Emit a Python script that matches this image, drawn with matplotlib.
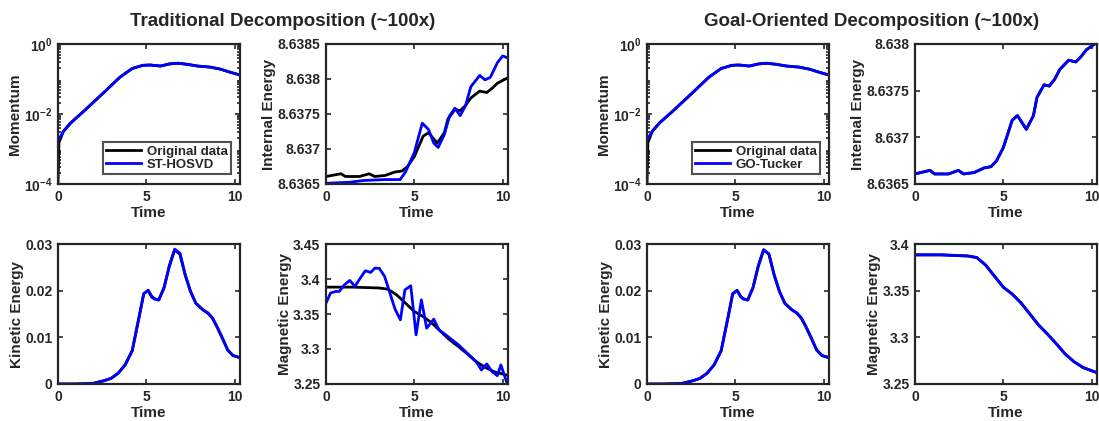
import matplotlib
matplotlib.use('Agg')
import matplotlib.pyplot as plt
import numpy as np
from matplotlib.ticker import FixedLocator, FuncFormatter, LogLocator, NullFormatter

plt.rcParams['font.family'] = ['Liberation Sans', 'DejaVu Sans']
plt.rcParams['font.weight'] = 'bold'
plt.rcParams['mathtext.fontset'] = 'custom'
plt.rcParams['mathtext.rm'] = 'Liberation Sans:bold'
plt.rcParams['mathtext.bf'] = 'Liberation Sans:bold'
plt.rcParams['mathtext.default'] = 'bf'

DARK = '#262626'

# ---- Momentum (log10 of value) ----
t_mom = [0.0, 0.05, 0.3, 0.7, 1.5, 2.5, 3.5, 4.2, 4.8, 5.2, 5.8, 6.3, 6.8, 7.3, 7.9, 8.6, 9.2, 9.7, 10.25]
mom_orig_log = [-4.0, -2.82, -2.5, -2.26, -1.9, -1.43, -0.95, -0.7, -0.61, -0.6, -0.63, -0.57, -0.55, -0.58, -0.63, -0.66, -0.72, -0.8, -0.88]
mom_st_log = [-2.74, -2.72, -2.5, -2.27, -1.9, -1.43, -0.95, -0.7, -0.61, -0.6, -0.63, -0.57, -0.55, -0.58, -0.63, -0.66, -0.72, -0.8, -0.88]
mom_go_log = [-2.74, -2.70, -2.49, -2.26, -1.9, -1.43, -0.95, -0.7, -0.61, -0.6, -0.63, -0.57, -0.55, -0.58, -0.63, -0.66, -0.72, -0.8, -0.88]

# ---- Internal energy (offset from 8.6365, units of 1e-4) ----
t_ie_orig = [0.0, 0.85, 1.1, 1.9, 2.45, 2.75, 3.35, 3.9, 4.3, 4.6, 5.0, 5.5, 5.8, 6.3, 6.7, 6.9, 7.3, 7.6, 7.9, 8.2, 8.7, 9.1, 9.4, 9.7, 10.25]
ie_orig = [1.07, 1.46, 1.07, 1.07, 1.46, 1.07, 1.22, 1.71, 1.85, 2.44, 3.9, 6.83, 7.32, 5.85, 7.32, 9.27, 10.63, 10.49, 11.22, 12.29, 13.27, 13.07, 13.66, 14.39, 15.12]
t_ie_st = [0.0, 1.3, 2.1, 3.3, 4.2, 4.5, 5.0, 5.45, 5.8, 6.1, 6.35, 6.7, 7.0, 7.3, 7.6, 7.9, 8.2, 8.7, 9.0, 9.3, 9.7, 10.0, 10.25]
ie_st = [0.10, 0.24, 0.49, 0.63, 0.63, 1.71, 4.49, 8.68, 7.8, 5.85, 5.22, 7.07, 9.76, 10.83, 9.76, 11.22, 13.9, 15.51, 14.88, 15.22, 17.32, 18.29, 18.05]
ie_go = [1.09, 1.46, 1.08, 1.08, 1.45, 1.08, 1.23, 1.72, 1.86, 2.45, 3.92, 6.84, 7.33, 5.86, 7.31, 9.26, 10.62, 10.5, 11.21, 12.28, 13.26, 13.08, 13.65, 14.38, 15.1]

# ---- Kinetic energy ----
t_ke = [0.0, 1.0, 2.0, 2.6, 3.0, 3.4, 3.8, 4.2, 4.6, 4.85, 5.1, 5.3, 5.45, 5.7, 6.0, 6.3, 6.6, 6.9, 7.2, 7.5, 7.8, 8.2, 8.5, 8.75, 9.0, 9.3, 9.6, 9.9, 10.25]
ke_orig = [0.0, 0.0, 0.00014, 0.0007, 0.0012, 0.0023, 0.0041, 0.0071, 0.0145, 0.0193, 0.0201, 0.0188, 0.0183, 0.018, 0.0206, 0.0252, 0.0287, 0.0278, 0.0233, 0.0198, 0.0173, 0.0159, 0.0151, 0.014, 0.0122, 0.0098, 0.0073, 0.0061, 0.0057]
ke_st = [0.0, 0.0, 0.00014, 0.0007, 0.0012, 0.0023, 0.0041, 0.0072, 0.0147, 0.0194, 0.0200, 0.0186, 0.0182, 0.0180, 0.0207, 0.0254, 0.0289, 0.0280, 0.0234, 0.0198, 0.0173, 0.0159, 0.0152, 0.0141, 0.0123, 0.0099, 0.0073, 0.0061, 0.0057]
ke_go = [0.0, 0.0, 0.00014, 0.0007, 0.0012, 0.0023, 0.0041, 0.0072, 0.0146, 0.0194, 0.0200, 0.0187, 0.0182, 0.0180, 0.0207, 0.0254, 0.0288, 0.0279, 0.0234, 0.0198, 0.0173, 0.0159, 0.0152, 0.0141, 0.0123, 0.0099, 0.0073, 0.0061, 0.0057]

# ---- Magnetic energy ----
t_me_orig = [0.0, 1.5, 3.0, 3.5, 4.0, 4.5, 5.0, 5.5, 6.0, 6.5, 7.0, 7.5, 8.0, 8.5, 9.0, 9.5, 10.25]
me_orig = [3.3884, 3.3884, 3.3872, 3.3855, 3.3774, 3.3655, 3.3536, 3.3464, 3.3369, 3.3249, 3.313, 3.3035, 3.293, 3.282, 3.2739, 3.2677, 3.2625]
t_me_st = [0.0, 0.26, 0.55, 0.75, 1.05, 1.35, 1.64, 1.94, 2.23, 2.53, 2.77, 3.02, 3.32, 3.62, 3.91, 4.21, 4.47, 4.8, 5.1, 5.4, 5.7, 6.1, 6.4, 6.9, 7.5, 8.1, 8.5, 8.8, 9.1, 9.4, 9.7, 9.9, 10.25]
me_st = [3.3655, 3.380, 3.3822, 3.3822, 3.3918, 3.398, 3.3894, 3.4013, 3.4118, 3.4094, 3.4156, 3.4152, 3.4037, 3.3798, 3.3569, 3.3417, 3.3846, 3.3903, 3.3202, 3.3703, 3.3297, 3.3426, 3.3273, 3.3178, 3.3059, 3.2915, 3.282, 3.270, 3.2786, 3.2677, 3.2619, 3.2772, 3.251]
me_go = [3.3883, 3.3883, 3.3871, 3.3854, 3.3773, 3.3654, 3.3537, 3.3463, 3.3368, 3.3250, 3.3131, 3.3034, 3.2931, 3.2821, 3.2738, 3.2678, 3.2624]

IE_BASE = 8.6365


def style_axes(ax, xlabel, ylabel):
    for s in ax.spines.values():
        s.set_linewidth(1.6)
        s.set_color(DARK)
    ax.tick_params(which='both', direction='in', top=True, right=True,
                   colors=DARK, labelsize=10, width=1.2, pad=4)
    ax.tick_params(which='major', length=3.5)
    ax.tick_params(which='minor', length=2)
    ax.set_xlim(0, 10.3)
    ax.set_xticks([0, 5, 10])
    ax.set_xlabel(xlabel, fontsize=11, fontweight='bold', color=DARK, labelpad=2)
    ax.set_ylabel(ylabel, fontsize=11, fontweight='bold', color=DARK, labelpad=1)


fmt_g = FuncFormatter(lambda v, p: f'{round(v, 6):g}')

fig = plt.figure(figsize=(10.99, 4.21), dpi=100)

groups = [
    dict(x0=0.0528, x1=0.2966, name='ST-HOSVD', title='Traditional Decomposition (~100x)',
         mom=mom_st_log, t_ie=t_ie_st, ie=ie_st, ie_top=8.6385, ke=ke_st,
         t_me=t_me_st, me=me_st, me_top=3.45),
    dict(x0=0.5887, x1=0.8326, name='GO-Tucker', title='Goal-Oriented Decomposition (~100x)',
         mom=mom_go_log, t_ie=t_ie_orig, ie=ie_go, ie_top=8.638, ke=ke_go,
         t_me=t_me_orig, me=me_go, me_top=3.4),
]

W = 0.1656
H = 0.3325
ytop = 0.563
ybot = 0.0879
lw = 2.0

for g in groups:
    # Momentum
    ax = fig.add_axes([g['x0'], ytop, W, H])
    ax.plot(t_mom, 10 ** np.array(mom_orig_log), color='k', lw=lw, label='Original data')
    ax.plot(t_mom, 10 ** np.array(g['mom']), color='#0000FF', lw=lw, label=g['name'])
    ax.set_yscale('log')
    ax.set_ylim(1e-4, 1)
    ax.yaxis.set_major_locator(FixedLocator([1e-4, 1e-2, 1]))
    ax.yaxis.set_major_formatter(FuncFormatter(lambda v, p: r'$10^{%d}$' % round(np.log10(v))))
    ax.yaxis.set_minor_locator(LogLocator(base=10, subs=np.arange(2, 10)))
    ax.yaxis.set_minor_formatter(NullFormatter())
    style_axes(ax, 'Time', 'Momentum')
    leg = ax.legend(loc='lower right', bbox_to_anchor=(0.95, 0.07), fontsize=9.5,
                    frameon=True, fancybox=False, edgecolor=DARK, handlelength=2.7,
                    borderpad=0.25, labelspacing=0.05, handletextpad=0.4, borderaxespad=0)
    leg.get_frame().set_linewidth(1.5)
    for txt in leg.get_texts():
        txt.set_fontweight('bold')
        txt.set_color(DARK)

    # Internal energy
    ax = fig.add_axes([g['x1'], ytop, W, H])
    ax.plot(t_ie_orig, IE_BASE + np.array(ie_orig) * 1e-4, color='k', lw=lw)
    ax.plot(g['t_ie'], IE_BASE + np.array(g['ie']) * 1e-4, color='#0000FF', lw=lw)
    ax.set_ylim(IE_BASE, g['ie_top'])
    ax.set_yticks(np.arange(IE_BASE, g['ie_top'] + 1e-5, 0.0005))
    ax.yaxis.set_major_formatter(fmt_g)
    style_axes(ax, 'Time', 'Internal Energy')

    # Kinetic energy
    ax = fig.add_axes([g['x0'], ybot, W, H])
    ax.plot(t_ke, ke_orig, color='k', lw=lw)
    ax.plot(t_ke, g['ke'], color='#0000FF', lw=lw)
    ax.set_ylim(0, 0.03)
    ax.set_yticks([0, 0.01, 0.02, 0.03])
    ax.yaxis.set_major_formatter(fmt_g)
    style_axes(ax, 'Time', 'Kinetic Energy')

    # Magnetic energy
    ax = fig.add_axes([g['x1'], ybot, W, H])
    ax.plot(t_me_orig, me_orig, color='k', lw=lw)
    ax.plot(g['t_me'], g['me'], color='#0000FF', lw=lw)
    ax.set_ylim(3.25, g['me_top'])
    ax.set_yticks(np.arange(3.25, g['me_top'] + 1e-6, 0.05))
    ax.yaxis.set_major_formatter(fmt_g)
    style_axes(ax, 'Time', 'Magnetic Energy')

    cx = (g['x0'] + g['x1'] + W) / 2
    fig.text(cx, 0.95, g['title'], ha='center', va='center', fontsize=13.5,
             fontweight='bold', color=DARK)

fig.savefig('out.png', dpi=100)
